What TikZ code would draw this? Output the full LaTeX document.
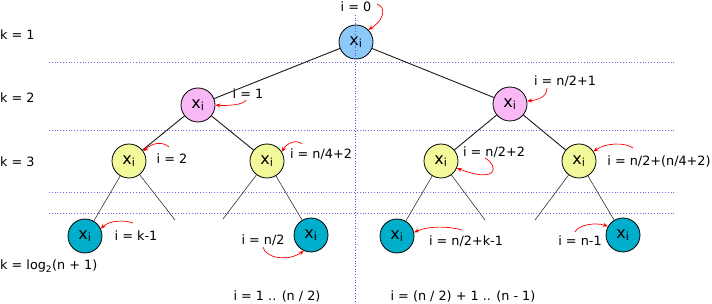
\documentclass[tikz,border=0pt]{standalone}
\usepackage{fontspec}
\setmainfont{DejaVu Sans}
\usetikzlibrary{arrows.meta}
\definecolor{cblue}{HTML}{8CC8F8}
\definecolor{cpink}{HTML}{F8B8F5}
\definecolor{cyell}{HTML}{F2F99A}
\definecolor{cteal}{HTML}{00AECB}
\definecolor{gridblue}{HTML}{6A6AF0}
\tikzset{
  vert/.style={circle,draw=black,line width=0.8pt,minimum size=34pt,inner sep=0pt,font=\fontsize{16}{18}\selectfont},
  lbl/.style={inner sep=0pt,font=\fontsize{12.8}{15}\selectfont},
  edge/.style={line width=0.9pt,draw=black!90},
  thinedge/.style={line width=0.55pt,draw=black!85},
  idx/.style={red,line width=0.7pt,-{Stealth[length=5pt,width=4pt]}},
  level/.style={gridblue,dotted,line width=0.8pt},
}
\begin{document}
\begin{tikzpicture}[x=1pt,y=-1pt]
\useasboundingbox (0,0) rectangle (712,304);
% level separators
\draw[level] (49,62) -- (675,62);
\draw[level] (49,130) -- (675,130);
\draw[level] (49,192) -- (675,192);
\draw[level] (49,213) -- (675,213);
% nodes
\node[vert,fill=cblue] (r) at (356,42) {x\textsubscript{i}};
\node[vert,fill=cpink] (a) at (198,105) {x\textsubscript{i}};
\node[vert,fill=cpink] (b) at (510,104) {x\textsubscript{i}};
\node[vert,fill=cyell] (c) at (129,161) {x\textsubscript{i}};
\node[vert,fill=cyell] (d) at (267,161) {x\textsubscript{i}};
\node[vert,fill=cyell] (e) at (441,161) {x\textsubscript{i}};
\node[vert,fill=cyell] (f) at (579,161) {x\textsubscript{i}};
\node[vert,fill=cteal] (g) at (85,236) {x\textsubscript{i}};
\node[vert,fill=cteal] (h) at (311,235) {x\textsubscript{i}};
\node[vert,fill=cteal] (j) at (397,236) {x\textsubscript{i}};
\node[vert,fill=cteal] (l) at (623,235) {x\textsubscript{i}};
% vertical divider
\draw[gridblue!80!blue,dotted,line width=0.7pt] (355,15) -- (355,304);
% dangling ends
\coordinate (c2) at (175,220);
\coordinate (d1) at (223,219);
\coordinate (e2) at (485,220);
\coordinate (f1) at (535,220);
% edges
\draw[edge] (r) -- (a);
\draw[edge] (r) -- (b);
\draw[edge] (a) -- (c);
\draw[edge] (a) -- (d);
\draw[edge] (b) -- (e);
\draw[edge] (b) -- (f);
\draw[thinedge] (c) -- (g);
\draw[thinedge] (c) -- (c2);
\draw[thinedge] (d) -- (d1);
\draw[thinedge] (d) -- (h);
\draw[thinedge] (e) -- (j);
\draw[thinedge] (e) -- (e2);
\draw[thinedge] (f) -- (f1);
\draw[thinedge] (f) -- (l);
% level labels
\node[lbl,anchor=west] (k1) at (0,35) {k = 1};
\node[lbl,anchor=west] (k2) at (0,98) {k = 2};
\node[lbl,anchor=west] (k3) at (0,162) {k = 3};
\node[lbl,anchor=west] (k4) at (0,266) {k = log\textsubscript{2}(n + 1)};
% index labels
\node[lbl] (l0) at (356,7) {i = 0};
\node[lbl] (l1) at (248,94) {i = 1};
\node[lbl] (lb) at (565,81) {i = n/2+1};
\node[lbl] (l2) at (172,159) {i = 2};
\node[lbl] (ld) at (321,154) {i = n/4+2};
\node[lbl] (le) at (494,152) {i = n/2+2};
\node[lbl] (lf) at (659,161) {i = n/2+(n/4+2)};
\node[lbl] (lg) at (136,236) {i = k-1};
\node[lbl] (lh) at (263,240) {i = n/2};
\node[lbl] (lj) at (466,241) {i = n/2+k-1};
\node[lbl] (ll) at (580,241) {i = n-1};
\node[lbl] (rg1) at (277,296) {i = 1 .. (n / 2)};
\node[lbl] (rg2) at (463,296) {i = (n / 2) + 1 .. (n - 1)};
% arrow start points
\coordinate (s0) at (377,4);
\coordinate (s1) at (246,100);
\coordinate (sb) at (547,88);
\coordinate (s2) at (169,147);
\coordinate (sd) at (302,144);
\coordinate (se) at (485,158);
\coordinate (sf) at (633,148);
\coordinate (sg) at (133,223);
\coordinate (sh) at (263,247);
\coordinate (sj) at (462,230);
\coordinate (sl) at (575,232);
% index arrows
\draw[idx] (s0) .. controls (388,8) and (382,22) .. (r.45);
\draw[idx] (s1) .. controls (244,105) and (226,106) .. (a.east);
\draw[idx] (sb) .. controls (547,97) and (538,100) .. (b.10);
\draw[idx] (s2) .. controls (162,141) and (152,143) .. (c.34);
\draw[idx] (sd) .. controls (296,139) and (287,143) .. (d.32);
\draw[idx] (se) .. controls (499,166) and (498,184) .. (e.-24);
\draw[idx] (sf) .. controls (625,142) and (605,143) .. (f.33);
\draw[idx] (sg) .. controls (125,220) and (110,220) .. (g.25);
\draw[idx] (sh) .. controls (265,258) and (288,262) .. (h.-115);
\draw[idx] (sj) .. controls (448,226) and (428,226) .. (j.12);
\draw[idx] (sl) .. controls (578,225) and (595,222) .. (l.150);
\end{tikzpicture}
\end{document}
